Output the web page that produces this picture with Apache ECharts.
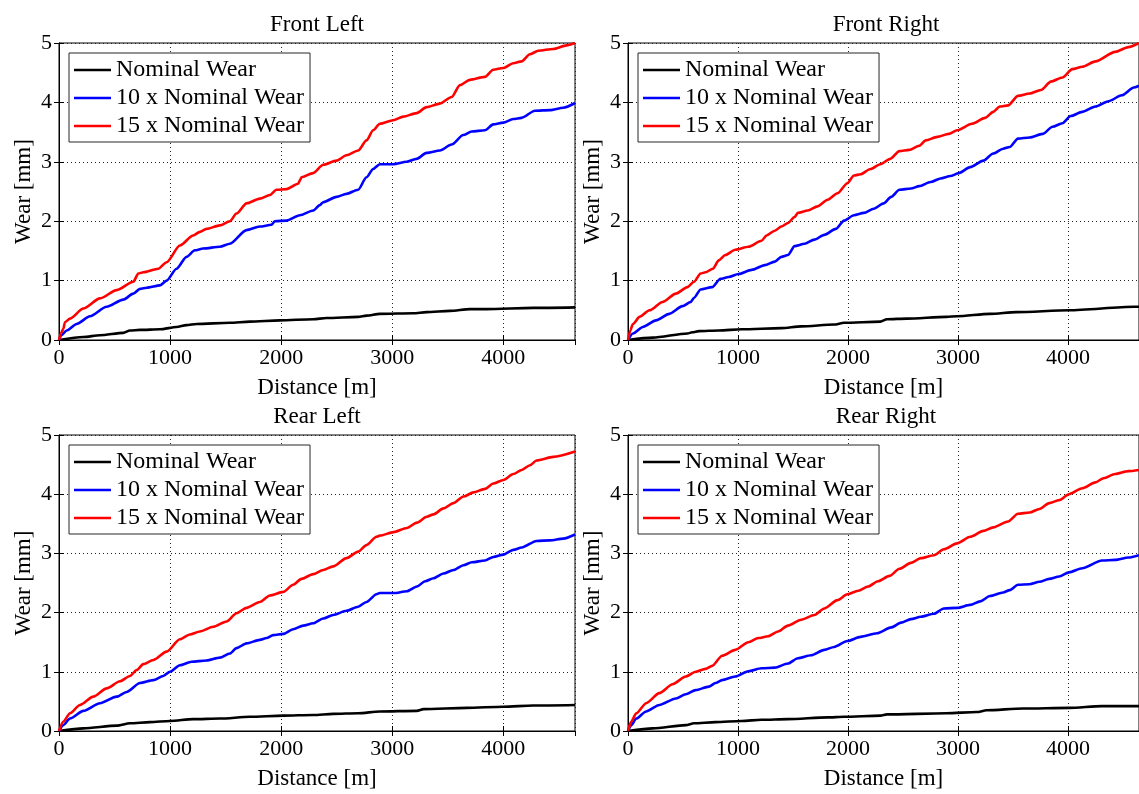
<!DOCTYPE html>
<html>
<head>
<meta charset="utf-8">
<title>Wear vs Distance</title>
<script src="https://cdn.jsdelivr.net/npm/echarts@6/dist/echarts.min.js"></script>
<style>
  html, body { margin: 0; padding: 0; background: #fff; }
  #chart { width: 1139px; height: 794px; }
</style>
</head>
<body>
<div id="chart"></div>
<script>
// Panel titles and legend names
const panelTitles = ['Front Left', 'Front Right', 'Rear Left', 'Rear Right'];
const seriesNames = ['Nominal Wear', '10 x Nominal Wear', '15 x Nominal Wear'];
const seriesColors = ['#000000', '#0000ff', '#ff0000'];
const yTicks = [0, 1, 2, 3, 4, 5];
const distanceMax = 4645;

// [distance m, wear mm] — Front Left
const frontLeftNominal = [[0,0],[219,0.05],[369,0.08],[579,0.12],[639,0.16],[729,0.17],[909,0.18],[1058,0.22],[1148,0.25],[1238,0.27],[1538,0.29],[1718,0.31],[1988,0.33],[2288,0.35],[2408,0.37],[2693,0.39],[2768,0.41],[2888,0.44],[3189,0.45],[3309,0.47],[3519,0.49],[3699,0.52],[3849,0.52],[4269,0.54],[4645,0.55]];
const frontLeft10 = [[0,0],[20,0.08],[69,0.16],[159,0.27],[279,0.40],[429,0.56],[579,0.68],[669,0.78],[729,0.86],[789,0.88],[909,0.92],[969,1.00],[1058,1.20],[1148,1.40],[1223,1.51],[1298,1.54],[1448,1.57],[1538,1.62],[1688,1.85],[1808,1.91],[1913,1.94],[1943,2.00],[2048,2.01],[2168,2.10],[2288,2.18],[2348,2.27],[2378,2.32],[2498,2.41],[2588,2.46],[2693,2.53],[2768,2.74],[2828,2.88],[2888,2.96],[3009,2.96],[3129,3.00],[3219,3.05],[3309,3.15],[3429,3.19],[3534,3.29],[3639,3.45],[3714,3.51],[3834,3.53],[3909,3.63],[3999,3.66],[4089,3.72],[4164,3.74],[4284,3.86],[4419,3.87],[4539,3.91],[4645,3.99]];
const frontLeft15 = [[0,0],[20,0.12],[39,0.19],[54,0.30],[99,0.36],[219,0.53],[369,0.70],[519,0.84],[669,0.98],[714,1.12],[759,1.14],[894,1.20],[969,1.31],[1088,1.59],[1208,1.76],[1268,1.82],[1328,1.87],[1448,1.93],[1538,2.00],[1598,2.13],[1688,2.30],[1808,2.38],[1898,2.44],[1958,2.53],[2048,2.54],[2153,2.63],[2172,2.70],[2183,2.74],[2288,2.81],[2378,2.95],[2498,3.02],[2588,3.11],[2693,3.19],[2768,3.36],[2828,3.53],[2888,3.64],[3009,3.70],[3099,3.76],[3219,3.82],[3309,3.92],[3429,3.98],[3534,4.09],[3609,4.29],[3699,4.38],[3834,4.43],[3909,4.55],[3999,4.58],[4089,4.66],[4164,4.69],[4239,4.81],[4314,4.87],[4449,4.90],[4569,4.96],[4645,5.00]];

// Front Right
const frontRightNominal = [[0,0],[225,0.04],[540,0.11],[585,0.13],[645,0.15],[825,0.16],[1034,0.18],[1394,0.20],[1574,0.23],[1874,0.26],[1964,0.29],[2294,0.31],[2354,0.35],[2534,0.36],[2894,0.39],[2991,0.40],[3290,0.44],[3530,0.47],[4009,0.50],[4599,0.56],[4645,0.56]];
const frontRight10 = [[0,0],[45,0.11],[135,0.22],[255,0.33],[375,0.44],[495,0.57],[570,0.64],[600,0.71],[660,0.85],[765,0.89],[840,1.03],[915,1.06],[1004,1.11],[1124,1.18],[1244,1.26],[1334,1.32],[1394,1.40],[1454,1.43],[1514,1.58],[1604,1.62],[1694,1.69],[1784,1.77],[1889,1.87],[1964,2.01],[2054,2.10],[2144,2.14],[2234,2.21],[2324,2.30],[2392,2.41],[2467,2.53],[2572,2.55],[2647,2.59],[2751,2.66],[2841,2.72],[2931,2.76],[3006,2.81],[3111,2.91],[3231,3.02],[3320,3.14],[3410,3.22],[3470,3.25],[3545,3.39],[3650,3.41],[3769,3.47],[3859,3.59],[3949,3.65],[4024,3.77],[4129,3.84],[4249,3.93],[4368,4.02],[4488,4.12],[4599,4.25],[4645,4.28]];
const frontRight15 = [[0,0],[21,0.16],[45,0.27],[105,0.39],[195,0.50],[315,0.64],[435,0.78],[540,0.89],[600,0.98],[660,1.12],[705,1.14],[771,1.20],[825,1.34],[885,1.43],[975,1.52],[1094,1.57],[1214,1.67],[1259,1.76],[1334,1.84],[1394,1.91],[1454,1.97],[1514,2.07],[1544,2.14],[1634,2.18],[1724,2.25],[1814,2.36],[1904,2.47],[1994,2.64],[2054,2.77],[2114,2.79],[2204,2.88],[2294,2.96],[2384,3.05],[2467,3.18],[2557,3.20],[2647,3.27],[2707,3.36],[2811,3.42],[2916,3.47],[2991,3.53],[3126,3.64],[3246,3.74],[3320,3.84],[3380,3.93],[3455,3.95],[3545,4.11],[3650,4.15],[3754,4.21],[3844,4.35],[3949,4.42],[4039,4.56],[4129,4.60],[4249,4.69],[4428,4.85],[4548,4.93],[4645,5.00]];

// Rear Left
const rearLeftNominal = [[0,0],[219,0.045],[519,0.09],[639,0.13],[819,0.15],[999,0.17],[1208,0.20],[1448,0.21],[1718,0.24],[2018,0.26],[2288,0.27],[2468,0.29],[2693,0.30],[2888,0.33],[3222,0.34],[3281,0.37],[3671,0.39],[4000,0.41],[4269,0.43],[4645,0.44]];
const rearLeft10 = [[0,0],[39,0.10],[99,0.21],[219,0.34],[369,0.47],[519,0.58],[609,0.66],[729,0.81],[849,0.86],[939,0.93],[999,1.00],[1088,1.11],[1193,1.17],[1328,1.19],[1448,1.24],[1538,1.31],[1598,1.40],[1688,1.48],[1808,1.54],[1868,1.57],[1928,1.62],[2018,1.64],[2108,1.72],[2198,1.78],[2288,1.82],[2378,1.90],[2468,1.96],[2588,2.03],[2693,2.10],[2768,2.18],[2858,2.31],[2888,2.33],[3012,2.33],[3132,2.36],[3222,2.44],[3296,2.53],[3371,2.58],[3461,2.66],[3551,2.72],[3641,2.80],[3716,2.85],[3835,2.88],[3910,2.94],[4000,2.98],[4090,3.06],[4165,3.10],[4299,3.21],[4419,3.22],[4539,3.25],[4645,3.32]];
const rearLeft15 = [[0,0],[39,0.16],[99,0.30],[189,0.44],[309,0.58],[429,0.72],[549,0.84],[639,0.93],[699,1.03],[759,1.13],[849,1.20],[969,1.34],[1088,1.55],[1178,1.63],[1268,1.68],[1388,1.76],[1508,1.85],[1598,1.99],[1688,2.08],[1808,2.18],[1898,2.29],[2018,2.35],[2108,2.47],[2183,2.57],[2288,2.65],[2378,2.72],[2468,2.78],[2588,2.92],[2693,3.03],[2768,3.14],[2858,3.28],[2888,3.30],[3012,3.36],[3132,3.43],[3222,3.52],[3311,3.62],[3371,3.66],[3461,3.76],[3551,3.85],[3641,3.96],[3731,4.03],[3835,4.09],[3910,4.18],[4000,4.24],[4090,4.34],[4165,4.41],[4240,4.49],[4299,4.57],[4449,4.63],[4645,4.72]];

// Rear Right
const rearRightNominal = [[0,0],[225,0.045],[525,0.10],[600,0.13],[795,0.15],[1034,0.17],[1214,0.19],[1454,0.20],[1814,0.23],[1964,0.24],[2294,0.26],[2354,0.28],[2894,0.30],[3171,0.32],[3260,0.35],[3590,0.38],[4009,0.39],[4308,0.42],[4645,0.42]];
const rearRight10 = [[0,0],[30,0.10],[75,0.21],[165,0.33],[285,0.44],[435,0.55],[525,0.62],[615,0.69],[735,0.75],[795,0.81],[855,0.86],[975,0.92],[1094,1.01],[1214,1.06],[1334,1.07],[1454,1.14],[1544,1.23],[1664,1.28],[1784,1.37],[1874,1.42],[1994,1.52],[2114,1.59],[2264,1.65],[2392,1.75],[2482,1.83],[2572,1.89],[2662,1.93],[2781,1.98],[2871,2.07],[2991,2.08],[3111,2.13],[3201,2.19],[3290,2.28],[3410,2.34],[3470,2.38],[3545,2.47],[3650,2.48],[3740,2.52],[3829,2.57],[3919,2.61],[4009,2.68],[4129,2.75],[4308,2.88],[4428,2.89],[4548,2.93],[4645,2.97]];
const rearRight15 = [[0,0],[30,0.16],[75,0.30],[165,0.47],[285,0.64],[405,0.79],[525,0.92],[615,1.00],[705,1.05],[765,1.10],[855,1.27],[975,1.37],[1094,1.50],[1184,1.57],[1274,1.60],[1364,1.68],[1454,1.78],[1574,1.88],[1694,1.96],[1784,2.07],[1904,2.21],[1994,2.31],[2093,2.37],[2183,2.44],[2272,2.53],[2377,2.62],[2467,2.74],[2572,2.84],[2662,2.92],[2781,2.97],[2871,3.07],[2991,3.17],[3111,3.28],[3231,3.38],[3320,3.44],[3455,3.54],[3545,3.67],[3650,3.69],[3740,3.75],[3829,3.85],[3919,3.90],[4009,4.00],[4129,4.10],[4249,4.20],[4323,4.27],[4428,4.34],[4548,4.39],[4645,4.41]];

const panelData = [
  [frontLeftNominal, frontLeft10, frontLeft15],
  [frontRightNominal, frontRight10, frontRight15],
  [rearLeftNominal, rearLeft10, rearLeft15],
  [rearRightNominal, rearRight10, rearRight15]
];

// Layout of the 2x2 axes (pixels)
const panelBoxes = [
  { left: 59,  top: 43,  width: 516, height: 297 },
  { left: 628, top: 43,  width: 516, height: 297 },
  { left: 59,  top: 435, width: 516, height: 296 },
  { left: 628, top: 435, width: 516, height: 296 }
];

const FONT = '"Liberation Serif", "DejaVu Serif", serif';
const FS_TICK = 22;
const FS_TEXT = 23;
const FS_LEGEND = 24;

const grid = [], xAxis = [], yAxis = [], series = [], title = [], legend = [];

panelBoxes.forEach((b, i) => {
  grid.push({ left: b.left, top: b.top, width: b.width, height: b.height,
    show: true, borderColor: '#000', borderWidth: 1, backgroundColor: '#fff', containLabel: false });

  title.push({ text: panelTitles[i], left: b.left + b.width / 2, top: b.top - 30,
    textAlign: 'center', padding: 0,
    textStyle: { fontFamily: FONT, fontSize: FS_TEXT, fontWeight: 'normal', color: '#000' } });

  legend.push({ data: seriesNames, orient: 'vertical', left: b.left + 10, top: b.top + 10,
    padding: [5, 6, 4, 5], itemWidth: 37, itemHeight: 2.5, itemGap: 4, icon: 'rect',
    backgroundColor: '#fff', borderColor: '#262626', borderWidth: 1, borderRadius: 0,
    selectedMode: false,
    textStyle: { fontFamily: FONT, fontSize: FS_LEGEND, color: '#000', lineHeight: 24 } });

  // main bottom / left axes
  xAxis.push({ type: 'value', gridIndex: i, min: 0, max: distanceMax, interval: 1000,
    name: 'Distance [m]', nameLocation: 'middle', nameGap: 36,
    nameTextStyle: { fontFamily: FONT, fontSize: FS_TEXT, color: '#000' },
    axisLine: { show: true, lineStyle: { color: '#000', width: 1 } },
    axisTick: { show: true, inside: true, length: 5, lineStyle: { color: '#000' } },
    axisLabel: { fontFamily: FONT, fontSize: FS_TICK, color: '#000', margin: 7, showMaxLabel: false,
      formatter: v => String(v) },
    splitLine: { show: true, lineStyle: { color: '#222', type: [1, 3], width: 1 } } });
  // top companion axis for the inner ticks
  xAxis.push({ type: 'value', gridIndex: i, position: 'top', min: 0, max: distanceMax, interval: 1000,
    axisLine: { show: true, lineStyle: { color: '#000', width: 1 } },
    axisTick: { show: true, inside: true, length: 5, lineStyle: { color: '#000' } },
    axisLabel: { show: false }, splitLine: { show: false } });

  yAxis.push({ type: 'value', gridIndex: i, min: yTicks[0], max: yTicks[yTicks.length - 1], interval: 1,
    name: 'Wear [mm]', nameLocation: 'middle', nameGap: 24, nameRotate: 90,
    nameTextStyle: { fontFamily: FONT, fontSize: FS_TEXT, color: '#000' },
    axisLine: { show: true, lineStyle: { color: '#000', width: 1 } },
    axisTick: { show: true, inside: true, length: 5, lineStyle: { color: '#000' } },
    axisLabel: { fontFamily: FONT, fontSize: FS_TICK, color: '#000', margin: 7 },
    splitLine: { show: true, lineStyle: { color: '#222', type: [1, 3], width: 1 } } });
  yAxis.push({ type: 'value', gridIndex: i, position: 'right', min: 0, max: 5, interval: 1,
    axisLine: { show: true, lineStyle: { color: '#000', width: 1 } },
    axisTick: { show: true, inside: true, length: 5, lineStyle: { color: '#000' } },
    axisLabel: { show: false }, splitLine: { show: false } });

  panelData[i].forEach((pts, k) => {
    series.push({ type: 'line', name: seriesNames[k], xAxisIndex: 2 * i, yAxisIndex: 2 * i,
      data: pts, symbol: 'none', showSymbol: false, smooth: 0.25, smoothMonotone: 'x',
      clip: true, silent: true, animation: false,
      lineStyle: { color: seriesColors[k], width: 2.6 }, itemStyle: { color: seriesColors[k] } });
  });
});

const chart = echarts.init(document.getElementById('chart'), null, { renderer: 'canvas' });
chart.setOption({ backgroundColor: '#fff', animation: false, title, legend, grid, xAxis, yAxis, series });
</script>
</body>
</html>
